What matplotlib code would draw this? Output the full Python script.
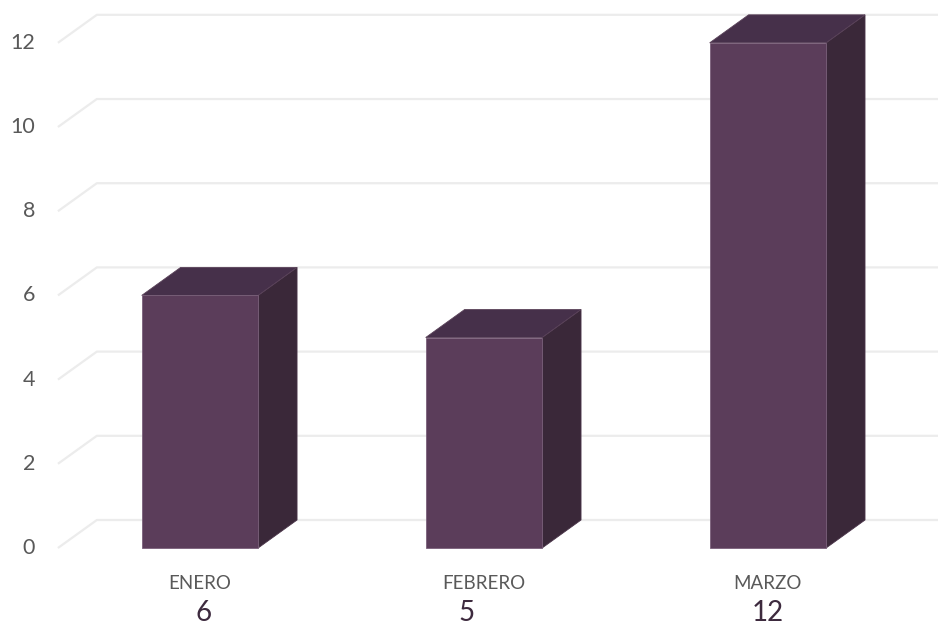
import matplotlib.pyplot as plt
from matplotlib.patches import Polygon

# data
months = ["ENERO", "FEBRERO", "MARZO"]
values = [6, 5, 12]
value_labels = ["6", "5", "12"]
yticks = [0, 2, 4, 6, 8, 10, 12]

# 3d look
bar_w = 0.41
dx, dy = 0.137, 0.665
front_c = "#5b3d5a"
top_c = "#46304a"
side_c = "#3a2839"

fig = plt.figure(figsize=(9.38, 6.29), dpi=100)
ax = fig.add_axes([0, 0, 1, 1])
ax.set_xlim(-0.704, 2.599)
ax.set_ylim(-1.924, 13.017)
ax.axis("off")

# gridlines: slanted stub on the left then flat along the back wall
for t in yticks:
    ax.plot([-0.5, -0.5 + dx, 2.6], [t, t + dy, t + dy],
            color="#ececec", lw=1.6, zorder=1, solid_capstyle="butt")
    ax.text(-0.581, t, str(t), ha="right", va="center",
            fontsize=15.5, color="#595959", family="Lato")

for i, v in enumerate(values):
    x0, x1 = i - bar_w / 2, i + bar_w / 2
    front = [(x0, 0), (x1, 0), (x1, v), (x0, v)]
    top = [(x0, v), (x1, v), (x1 + dx, v + dy), (x0 + dx, v + dy)]
    side = [(x1, 0), (x1 + dx, dy), (x1 + dx, v + dy), (x1, v)]
    ax.add_patch(Polygon(side, closed=True, fc=side_c, ec="#4a3449", lw=0.6, zorder=3))
    ax.add_patch(Polygon(top, closed=True, fc=top_c, ec="#5a4259", lw=0.6, zorder=3))
    ax.add_patch(Polygon(front, closed=True, fc=front_c, ec="#7a607a", lw=0.6, zorder=4))

# category names and values under the bars
label_shift = [0.014, -0.06, 0.0]
for i, m in enumerate(months):
    ax.text(i, -0.85, m, ha="center", va="center", fontsize=13.5,
            color="#595959", family="Lato")
    ax.text(i + label_shift[i], -1.55, value_labels[i], ha="center", va="center",
            fontsize=20, color="#3d2a3e", family="Lato")

fig.savefig("out.png", dpi=100)
